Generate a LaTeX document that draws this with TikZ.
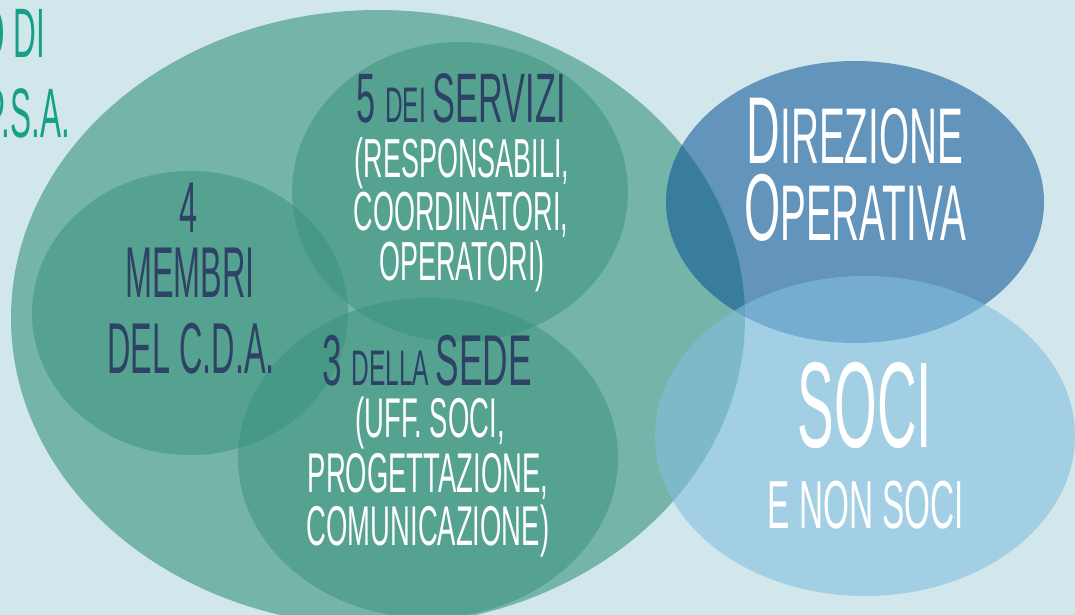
\documentclass[tikz,border=0pt]{standalone}
\usepackage{fontspec}
\setmainfont{Liberation Sans}[FakeStretch=0.49]
\newfontfamily\stretta{Liberation Sans}[FakeStretch=0.45]
\usepackage{tikz}
\definecolor{sfondo}{RGB}{209,231,236}
\definecolor{verde}{RGB}{56,146,123}
\definecolor{blu}{RGB}{7,80,149}
\definecolor{azzurro}{RGB}{131,191,224}
\definecolor{navy}{RGB}{46,66,102}
\definecolor{verdetesto}{RGB}{23,160,136}
\newcommand{\fs}[1]{\fontsize{#1}{#1}\selectfont}
\tikzset{
	insieme/.style={fill=verde,fill opacity=0.6},
	gruppo/.style={fill=verde,fill opacity=0.5},
	direz/.style={fill=blu,fill opacity=0.55},
	soci/.style={fill=azzurro,fill opacity=0.6},
	riga/.style={anchor=base,inner sep=0pt,text=#1},
	riga/.default=white,
}

\begin{document}
\begin{tikzpicture}[x=1pt,y=-1pt]
			% page frame and background
			\useasboundingbox (0,0) rectangle (1075,615);
			\clip (0,0) rectangle (1075,615);
			\fill[sfondo] (0,0) rectangle (1075,615);

			% big set and its three groups
			\fill[insieme] (378,318) ellipse [x radius=367,y radius=308];
			\fill[gruppo] (190,313) ellipse [x radius=158,y radius=142];
			\fill[gruppo] (460,192) ellipse [x radius=168,y radius=150];
			\fill[gruppo] (428,458) ellipse [x radius=190,y radius=160];

			% right side sets
			\fill[direz] (855,202) ellipse [x radius=189,y radius=141];
			\fill[soci] (865,436) ellipse [x radius=210,y radius=160];

			% title cut at the left border
			\node[riga=verdetesto,anchor=base east] (tit1) at (45,58) {\stretta\fs{70}O DI};
			\node[riga=verdetesto,anchor=base east] (tit2) at (70,137) {\stretta\fs{70}P.S.A.};

			% board members
			\node[riga=navy] (cda1) at (189,232) {\stretta\fs{72}4};
			\node[riga=navy] (cda2) at (190,297) {\stretta\fs{72}MEMBRI};
			\node[riga=navy] (cda3) at (191,373) {\stretta\fs{72}DEL C.D.A.};

			% services
			\node[riga=navy] (serv1) at (461,122) {\fs{70}5 \fs{50}DEI \fs{70}SERVIZI};
			\node[riga] (serv2) at (462,177) {\fs{55}(RESPONSABILI,};
			\node[riga] (serv3) at (461,230) {\fs{55}COORDINATORI,};
			\node[riga] (serv4) at (462,280) {\fs{55}OPERATORI)};

			% head office
			\node[riga=navy] (sede1) at (427,385) {\fs{72}3 \fs{50}DELLA \fs{72}SEDE};
			\node[riga] (sede2) at (430,437) {\fs{56}(UFF. SOCI,};
			\node[riga] (sede3) at (428,492) {\fs{56}PROGETTAZIONE,};
			\node[riga] (sede4) at (428,545) {\fs{56}COMUNICAZIONE)};

			% management
			\node[riga] (dir1) at (855,163) {\fs{95}D\fs{79}IREZIONE};
			\node[riga] (dir2) at (855,240) {\fs{95}O\fs{79}PERATIVA};

			% members and non members
			\node[riga] (soci1) at (865,447) {\stretta\fs{122}SOCI};
			\node[riga] (soci2) at (866,528) {\fs{68}E NON SOCI};
\end{tikzpicture}
\end{document}
